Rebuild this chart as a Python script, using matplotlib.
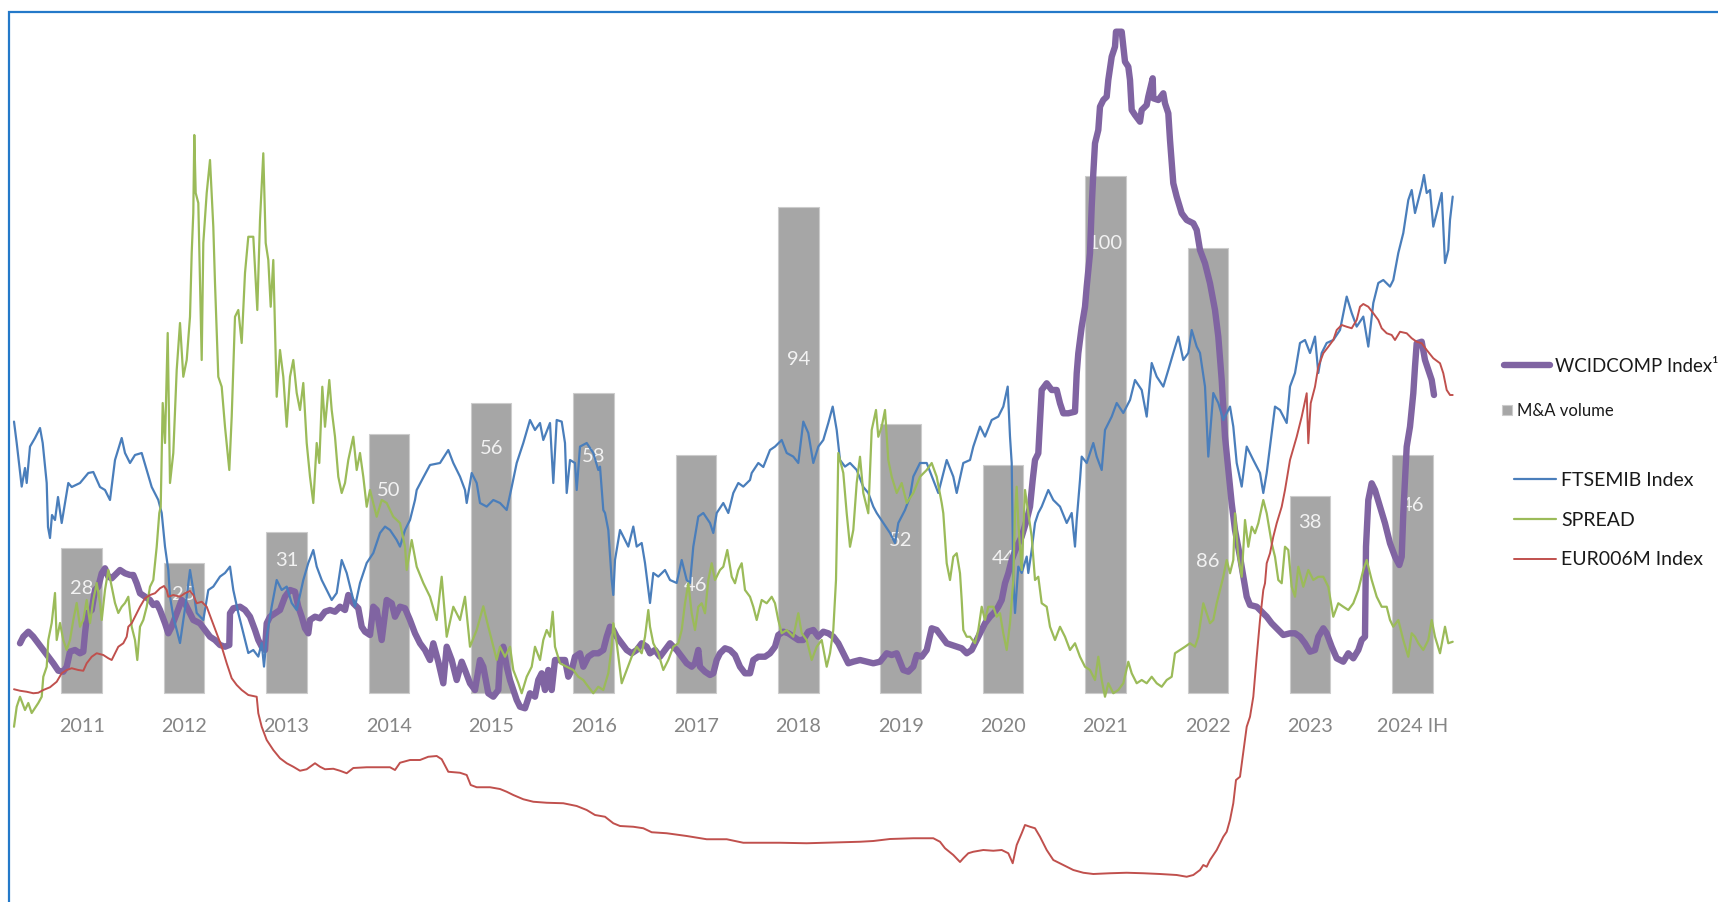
import numpy as np
import matplotlib
matplotlib.use("Agg")
import matplotlib.pyplot as plt
from matplotlib.patches import Rectangle

plt.rcParams['font.family'] = ['Lato', 'DejaVu Sans']

# ---- data -------------------------------------------------------------
years = ['2011', '2012', '2013', '2014', '2015', '2016', '2017',
         '2018', '2019', '2020', '2021', '2022', '2023', '2024 IH']
ma_volume = [28, 25, 31, 50, 56, 58, 46, 94, 52, 44, 100, 86, 38, 46]

# (year fraction, index level)
wcidcomp = [
    (2010.17, 156.7), (2010.203, 163.3), (2010.253, 168.3), (2010.303, 163.3), (2010.353, 156.7),
    (2010.403, 150), (2010.453, 143.3), (2010.503, 136.7), (2010.553, 129.3), (2010.603, 128.3),
    (2010.637, 133.3), (2010.67, 148.3), (2010.72, 150), (2010.77, 146.7), (2010.803, 148.3),
    (2010.82, 166.7), (2010.843, 186.7), (2010.887, 190), (2010.92, 210), (2010.953, 213.3),
    (2010.987, 226.7), (2011.02, 231.7), (2011.053, 223.3), (2011.087, 221.7), (2011.12, 225),
    (2011.17, 230), (2011.22, 226.7), (2011.27, 225), (2011.303, 225), (2011.337, 216.7),
    (2011.37, 206.7), (2011.42, 203.3), (2011.47, 200), (2011.503, 195), (2011.537, 196.7),
    (2011.57, 190), (2011.62, 176.7), (2011.653, 166.7), (2011.687, 173.3), (2011.737, 186.7),
    (2011.787, 200), (2011.82, 196.7), (2011.853, 190), (2011.903, 180), (2011.97, 176.7),
    (2012.02, 170), (2012.07, 163.3), (2012.12, 160), (2012.17, 155), (2012.22, 153.3),
    (2012.263, 155), (2012.27, 186.7), (2012.303, 191.7), (2012.37, 193.3), (2012.42, 190),
    (2012.47, 183.3), (2012.52, 170), (2012.553, 160), (2012.587, 153.3), (2012.62, 150),
    (2012.637, 176.7), (2012.67, 183.3), (2012.72, 186.7), (2012.77, 190), (2012.82, 203.3),
    (2012.87, 210), (2012.92, 208.3), (2012.953, 193.3), (2012.987, 183.3), (2013.02, 171.7),
    (2013.053, 166.7), (2013.07, 180), (2013.12, 183.3), (2013.17, 181.7), (2013.22, 188.3),
    (2013.27, 190), (2013.32, 188.3), (2013.37, 193.3), (2013.42, 190), (2013.453, 205),
    (2013.503, 196.7), (2013.553, 191.7), (2013.587, 173.3), (2013.62, 168.3), (2013.67, 165),
    (2013.703, 193.3), (2013.737, 190), (2013.787, 160), (2013.837, 200), (2013.887, 196.7),
    (2013.92, 183.3), (2013.97, 193.3), (2014.02, 191.7), (2014.07, 180), (2014.12, 166.7),
    (2014.17, 156.7), (2014.22, 150), (2014.27, 140), (2014.303, 156.7), (2014.353, 138.3),
    (2014.403, 116.7), (2014.437, 153.3), (2014.487, 140), (2014.537, 120), (2014.587, 138.3),
    (2014.62, 130), (2014.67, 116.7), (2014.72, 110), (2014.77, 140), (2014.803, 133.3),
    (2014.853, 106.7), (2014.903, 103.3), (2014.953, 110), (2014.97, 140), (2015.003, 153.3),
    (2015.037, 133.3), (2015.07, 120), (2015.103, 110), (2015.137, 100), (2015.17, 93.3),
    (2015.22, 91.7), (2015.27, 106.7), (2015.32, 103.3), (2015.353, 120), (2015.387, 126.7),
    (2015.42, 110), (2015.453, 130), (2015.487, 110), (2015.52, 140), (2015.57, 140),
    (2015.62, 140), (2015.653, 123.3), (2015.687, 130), (2015.72, 143.3), (2015.77, 146.7),
    (2015.803, 133.3), (2015.853, 143.3), (2015.903, 146.7), (2015.953, 146.7), (2016.003, 150),
    (2016.037, 163.3), (2016.07, 173.3), (2016.103, 170), (2016.137, 163.3), (2016.187, 156.7),
    (2016.237, 150), (2016.287, 146.7), (2016.337, 150), (2016.387, 156.7), (2016.437, 153.3),
    (2016.47, 146.7), (2016.52, 150), (2016.57, 143.3), (2016.62, 150), (2016.67, 156.7),
    (2016.703, 153.3), (2016.737, 150), (2016.787, 143.3), (2016.837, 136.7), (2016.887, 133.3),
    (2016.92, 136.7), (2016.953, 150), (2016.97, 133.3), (2017.02, 128.3), (2017.07, 125),
    (2017.103, 126.7), (2017.137, 140), (2017.17, 146.7), (2017.22, 151.7), (2017.27, 150),
    (2017.32, 145), (2017.37, 133.3), (2017.42, 126.7), (2017.47, 126.7), (2017.503, 140),
    (2017.553, 143.3), (2017.62, 143.3), (2017.67, 146.7), (2017.72, 153.3), (2017.753, 165),
    (2017.803, 168.3), (2017.853, 166.7), (2017.903, 163.3), (2017.953, 160), (2018.003, 160),
    (2018.053, 168.3), (2018.103, 170), (2018.153, 163.3), (2018.203, 168.3), (2018.253, 166.7),
    (2018.303, 163.3), (2018.353, 156.7), (2018.403, 146.7), (2018.453, 136.7), (2018.503, 138.3),
    (2018.57, 140), (2018.637, 138.3), (2018.703, 136.7), (2018.77, 138.3), (2018.837, 146.7),
    (2018.887, 145), (2018.937, 146.7), (2018.97, 138.3), (2019.003, 130), (2019.053, 128.3),
    (2019.103, 133.3), (2019.137, 145), (2019.187, 143.3), (2019.237, 150), (2019.287, 171.7),
    (2019.337, 170), (2019.387, 163.3), (2019.437, 156.7), (2019.487, 155), (2019.537, 153.3),
    (2019.587, 151.7), (2019.637, 146.7), (2019.687, 150), (2019.737, 160), (2019.77, 166.7),
    (2019.82, 176.7), (2019.87, 183.3), (2019.92, 188.3), (2019.953, 193.3), (2019.987, 200),
    (2020.02, 216.7), (2020.053, 226.7), (2020.087, 240), (2020.137, 253.3), (2020.187, 263.3),
    (2020.237, 280), (2020.27, 293.3), (2020.297, 320), (2020.32, 340), (2020.353, 346.7),
    (2020.387, 410), (2020.437, 416.7), (2020.487, 410), (2020.537, 410), (2020.57, 396.7),
    (2020.603, 386.7), (2020.653, 386.7), (2020.72, 388.3), (2020.737, 426.7), (2020.753, 446.7),
    (2020.787, 473.3), (2020.82, 493.3), (2020.837, 513.3), (2020.87, 546.7), (2020.887, 593.3),
    (2020.903, 626.7), (2020.92, 656.7), (2020.953, 670), (2020.97, 693.3), (2021.003, 700),
    (2021.037, 703.3), (2021.053, 720), (2021.087, 743.3), (2021.12, 753.3), (2021.13, 768.3),
    (2021.187, 768.3), (2021.203, 753.3), (2021.22, 738.3), (2021.253, 733.3), (2021.27, 720),
    (2021.287, 690), (2021.32, 685), (2021.37, 678.3), (2021.387, 690), (2021.437, 695),
    (2021.453, 703.3), (2021.497, 721.7), (2021.503, 701.7), (2021.553, 700), (2021.603, 706.7),
    (2021.62, 696.7), (2021.653, 686.7), (2021.67, 660), (2021.703, 616.7), (2021.737, 603.3),
    (2021.787, 586.7), (2021.837, 580), (2021.903, 576.7), (2021.937, 570), (2021.97, 550),
    (2022.02, 536.7), (2022.07, 516.7), (2022.12, 490), (2022.153, 463.3), (2022.187, 420),
    (2022.22, 363.3), (2022.253, 330), (2022.287, 296.7), (2022.32, 270), (2022.37, 243.3),
    (2022.403, 223.3), (2022.437, 203.3), (2022.47, 195), (2022.537, 193.3), (2022.587, 188.3),
    (2022.637, 183.3), (2022.687, 176.7), (2022.753, 170), (2022.803, 165), (2022.87, 166.7),
    (2022.92, 166.7), (2022.97, 163.3), (2023.02, 156.7), (2023.07, 148.3), (2023.12, 150),
    (2023.153, 163.3), (2023.203, 171.7), (2023.237, 166.7), (2023.287, 153.3), (2023.337, 141.7),
    (2023.403, 138.3), (2023.453, 146.7), (2023.503, 141.7), (2023.553, 150), (2023.587, 160),
    (2023.62, 163.3), (2023.63, 253.3), (2023.653, 300), (2023.687, 316.7), (2023.72, 310),
    (2023.77, 293.3), (2023.82, 276.7), (2023.87, 256.7), (2023.92, 243.3), (2023.963, 235),
    (2023.987, 243.3), (2024.003, 286.7), (2024.037, 353.3), (2024.07, 373.3), (2024.103, 406.7),
    (2024.12, 433.3), (2024.137, 456.7), (2024.187, 458.3), (2024.22, 440), (2024.253, 430),
    (2024.287, 420), (2024.31, 405),
]

ftsemib = [
    (2010.11, 23920), (2010.137, 22850), (2010.187, 20670), (2010.22, 21600), (2010.237, 20850),
    (2010.27, 22670), (2010.32, 23100), (2010.37, 23600), (2010.397, 22850), (2010.437, 20850),
    (2010.45, 18650), (2010.47, 18100), (2010.49, 19250), (2010.52, 19000), (2010.55, 20150),
    (2010.587, 18850), (2010.653, 20850), (2010.687, 20650), (2010.77, 20850), (2010.853, 21350),
    (2010.903, 21400), (2010.97, 20650), (2011.02, 20500), (2011.07, 20000), (2011.12, 22000),
    (2011.187, 23100), (2011.22, 22350), (2011.27, 21850), (2011.32, 22250), (2011.387, 22350),
    (2011.437, 21500), (2011.487, 20650), (2011.553, 20000), (2011.587, 19350), (2011.62, 17670),
    (2011.653, 16500), (2011.67, 15170), (2011.703, 14170), (2011.77, 12850), (2011.803, 14000),
    (2011.837, 15170), (2011.87, 16500), (2011.903, 15500), (2011.937, 14350), (2012.003, 14000),
    (2012.053, 15500), (2012.103, 15670), (2012.17, 16170), (2012.22, 16350), (2012.27, 16670),
    (2012.303, 15500), (2012.353, 14350), (2012.403, 13350), (2012.453, 12350), (2012.503, 12500),
    (2012.553, 12170), (2012.587, 12850), (2012.61, 11670), (2012.637, 13170), (2012.687, 14670),
    (2012.737, 16000), (2012.787, 15500), (2012.837, 15670), (2012.887, 14850), (2012.937, 14500),
    (2013.003, 16000), (2013.053, 16850), (2013.103, 17500), (2013.137, 16670), (2013.187, 16000),
    (2013.237, 15500), (2013.287, 15000), (2013.337, 15350), (2013.387, 17000), (2013.437, 16350),
    (2013.487, 15350), (2013.52, 14670), (2013.57, 15850), (2013.637, 16850), (2013.703, 17350),
    (2013.77, 18350), (2013.82, 18670), (2013.87, 18500), (2013.937, 18000), (2013.97, 17670),
    (2014.02, 18500), (2014.07, 19000), (2014.12, 20000), (2014.137, 20500), (2014.2, 21100),
    (2014.27, 21750), (2014.37, 21850), (2014.453, 22500), (2014.503, 21850), (2014.57, 21170),
    (2014.62, 20500), (2014.637, 19850), (2014.687, 21350), (2014.737, 20850), (2014.77, 19850),
    (2014.837, 19670), (2014.903, 20000), (2014.97, 19850), (2015.037, 19500), (2015.087, 20650),
    (2015.137, 21850), (2015.203, 22850), (2015.27, 24000), (2015.32, 23500), (2015.37, 23850),
    (2015.403, 23000), (2015.47, 23850), (2015.503, 20850), (2015.537, 24000), (2015.587, 23920),
    (2015.62, 22850), (2015.637, 20350), (2015.67, 22000), (2015.72, 21850), (2015.737, 20500),
    (2015.77, 22670), (2015.837, 22850), (2015.903, 22350), (2015.953, 21500), (2015.97, 21670),
    (2016.003, 19500), (2016.02, 19350), (2016.053, 18500), (2016.087, 16000), (2016.103, 15250),
    (2016.12, 17000), (2016.17, 18500), (2016.203, 18170), (2016.253, 17670), (2016.303, 18670),
    (2016.337, 17670), (2016.387, 17850), (2016.42, 16850), (2016.453, 15500), (2016.47, 14850),
    (2016.503, 16350), (2016.553, 16170), (2016.62, 16500), (2016.67, 16000), (2016.737, 15850),
    (2016.787, 17000), (2016.837, 16000), (2016.87, 15850), (2016.903, 17670), (2016.953, 19170),
    (2017.003, 19350), (2017.07, 18850), (2017.103, 18350), (2017.137, 19350), (2017.203, 19850),
    (2017.253, 19350), (2017.303, 20350), (2017.353, 20850), (2017.403, 20670), (2017.47, 21000),
    (2017.487, 21350), (2017.553, 21850), (2017.603, 21650), (2017.67, 22500), (2017.72, 22670),
    (2017.787, 23000), (2017.837, 22350), (2017.903, 22170), (2017.953, 21850), (2018.003, 23920),
    (2018.053, 23350), (2018.103, 21850), (2018.153, 22670), (2018.203, 23000), (2018.253, 23850),
    (2018.297, 24670), (2018.337, 23500), (2018.37, 22000), (2018.42, 21670), (2018.47, 21850),
    (2018.537, 21500), (2018.603, 20650), (2018.653, 20350), (2018.703, 19670), (2018.737, 19350),
    (2018.803, 18850), (2018.87, 18350), (2018.92, 17850), (2018.953, 18850), (2019.02, 19500),
    (2019.07, 20170), (2019.103, 21170), (2019.17, 21850), (2019.237, 21850), (2019.303, 21000),
    (2019.353, 20350), (2019.437, 22000), (2019.503, 21170), (2019.537, 20350), (2019.603, 21850),
    (2019.67, 22000), (2019.703, 22670), (2019.77, 23670), (2019.82, 23170), (2019.887, 24000),
    (2019.953, 24170), (2020.003, 24670), (2020.047, 25670), (2020.07, 23170), (2020.087, 21850),
    (2020.103, 16000), (2020.12, 14350), (2020.153, 16670), (2020.187, 16350), (2020.237, 17170),
    (2020.253, 16350), (2020.287, 17500), (2020.32, 18850), (2020.353, 19350), (2020.387, 19670),
    (2020.453, 20500), (2020.503, 20000), (2020.57, 19670), (2020.637, 18850), (2020.687, 19350),
    (2020.72, 17670), (2020.737, 19000), (2020.77, 21000), (2020.787, 22170), (2020.837, 21850),
    (2020.903, 22850), (2020.937, 22170), (2020.987, 21500), (2021.02, 23500), (2021.087, 24170),
    (2021.137, 24850), (2021.203, 24350), (2021.27, 25000), (2021.32, 26000), (2021.387, 25500),
    (2021.437, 24170), (2021.487, 26850), (2021.537, 26170), (2021.603, 25670), (2021.653, 26500),
    (2021.703, 27350), (2021.753, 28170), (2021.803, 27000), (2021.853, 27350), (2021.887, 28500),
    (2021.937, 27670), (2021.97, 27350), (2022.02, 25670), (2022.053, 22170), (2022.103, 25350),
    (2022.153, 24850), (2022.203, 24000), (2022.27, 24670), (2022.303, 23670), (2022.337, 21850),
    (2022.387, 20670), (2022.437, 22670), (2022.503, 22000), (2022.57, 21350), (2022.603, 20350),
    (2022.637, 21350), (2022.67, 22670), (2022.72, 24670), (2022.77, 24500), (2022.837, 23850),
    (2022.87, 25670), (2022.92, 26350), (2022.97, 27850), (2023.02, 28000), (2023.07, 27350),
    (2023.12, 28170), (2023.153, 26350), (2023.187, 27350), (2023.237, 27850), (2023.303, 28000),
    (2023.37, 28500), (2023.437, 30170), (2023.487, 29350), (2023.537, 28670), (2023.603, 29170),
    (2023.653, 27670), (2023.703, 29850), (2023.753, 30850), (2023.803, 31000), (2023.87, 30670),
    (2023.903, 31000), (2023.953, 32350), (2024.003, 33350), (2024.053, 35000), (2024.087, 35500),
    (2024.12, 34350), (2024.153, 35000), (2024.187, 35670), (2024.21, 36250), (2024.237, 35350),
    (2024.27, 35500), (2024.303, 33670), (2024.353, 34670), (2024.387, 35350), (2024.42, 31850),
    (2024.453, 32500), (2024.47, 34000), (2024.497, 35170),
]

# BTP-Bund spread, bps
spread = [
    (2010.11, 58.6), (2010.137, 74.6), (2010.17, 82.6), (2010.22, 72), (2010.253, 77.6),
    (2010.287, 69.6), (2010.353, 77.6), (2010.387, 82.6), (2010.403, 98.6), (2010.437, 106.6),
    (2010.453, 128), (2010.487, 141.6), (2010.52, 165.6), (2010.537, 128), (2010.57, 141.6),
    (2010.603, 128), (2010.637, 120), (2010.67, 128), (2010.703, 144), (2010.737, 157.6),
    (2010.77, 138.6), (2010.803, 144), (2010.837, 160), (2010.87, 141.6), (2010.903, 160),
    (2010.937, 173.6), (2010.97, 157.6), (2010.987, 144), (2011.02, 168), (2011.053, 184),
    (2011.087, 170.6), (2011.12, 157.6), (2011.153, 149.6), (2011.187, 154.6), (2011.22, 157.6),
    (2011.253, 162.6), (2011.287, 138.6), (2011.32, 128), (2011.343, 112), (2011.37, 138.6),
    (2011.403, 144), (2011.437, 154.6), (2011.47, 170.6), (2011.503, 176), (2011.537, 202.6),
    (2011.563, 229.6), (2011.577, 234.6), (2011.597, 317.6), (2011.62, 285.6), (2011.647, 373.6),
    (2011.67, 253.6), (2011.703, 277.6), (2011.737, 344), (2011.77, 381.6), (2011.803, 338.6),
    (2011.837, 352), (2011.87, 386.6), (2011.887, 437.6), (2011.903, 469.6), (2011.913, 532),
    (2011.927, 485.6), (2011.953, 477.6), (2011.987, 352), (2012.003, 445.6), (2012.037, 485.6),
    (2012.07, 512), (2012.103, 458.6), (2012.12, 413.6), (2012.153, 338.6), (2012.187, 330.6),
    (2012.22, 298.6), (2012.263, 264), (2012.287, 306.6), (2012.32, 386.6), (2012.353, 392),
    (2012.387, 365.6), (2012.42, 421.6), (2012.453, 450.6), (2012.503, 450.6), (2012.543, 392),
    (2012.57, 464), (2012.603, 517.4), (2012.627, 445.6), (2012.653, 432), (2012.677, 394.6),
    (2012.703, 432), (2012.737, 322.6), (2012.77, 360), (2012.803, 338.6), (2012.837, 298.6),
    (2012.87, 338.6), (2012.903, 352), (2012.937, 325.6), (2012.97, 312), (2013.003, 333.6),
    (2013.037, 285.6), (2013.07, 258.6), (2013.103, 237.6), (2013.137, 285.6), (2013.163, 269.6),
    (2013.193, 330.6), (2013.22, 298.6), (2013.263, 336), (2013.287, 312), (2013.32, 290.6),
    (2013.353, 258.6), (2013.387, 245.6), (2013.42, 253.6), (2013.453, 272), (2013.503, 290.6),
    (2013.537, 264), (2013.57, 277.6), (2013.603, 258.6), (2013.637, 234.6), (2013.67, 248),
    (2013.737, 226.6), (2013.787, 240), (2013.837, 237.6), (2013.903, 226.6), (2013.97, 221.6),
    (2014.02, 202.6), (2014.037, 184), (2014.087, 208), (2014.137, 186.6), (2014.203, 173.6),
    (2014.27, 162.6), (2014.337, 144), (2014.387, 178.6), (2014.437, 130.6), (2014.503, 154.6),
    (2014.57, 144), (2014.62, 162.6), (2014.67, 122.6), (2014.737, 136), (2014.803, 155),
    (2014.853, 138.6), (2014.887, 128), (2014.937, 112), (2014.97, 122.6), (2015.02, 114.6),
    (2015.07, 122.6), (2015.103, 104), (2015.153, 93.6), (2015.187, 85.4), (2015.237, 98.6),
    (2015.287, 106.6), (2015.32, 122.6), (2015.37, 112), (2015.403, 128), (2015.437, 136),
    (2015.47, 130.6), (2015.497, 150.6), (2015.52, 122.6), (2015.57, 109.4), (2015.637, 106.6),
    (2015.703, 104), (2015.753, 98.6), (2015.803, 96), (2015.853, 90.6), (2015.903, 85.4),
    (2015.953, 90.6), (2016.003, 88), (2016.053, 101.4), (2016.087, 122.6), (2016.103, 141.4),
    (2016.137, 125.4), (2016.187, 93.4), (2016.237, 104), (2016.287, 114.6), (2016.337, 122.6),
    (2016.387, 117.4), (2016.42, 130.6), (2016.453, 152), (2016.47, 138.6), (2016.503, 125.4),
    (2016.553, 117.4), (2016.603, 104), (2016.653, 112), (2016.703, 122.6), (2016.753, 125.4),
    (2016.787, 136), (2016.82, 157.4), (2016.853, 173.4), (2016.887, 149.4), (2016.92, 136),
    (2016.953, 154.6), (2016.987, 157.4), (2017.02, 149.4), (2017.053, 176), (2017.087, 189.4),
    (2017.12, 176), (2017.17, 184), (2017.203, 186.6), (2017.243, 200), (2017.287, 178.6),
    (2017.32, 173.4), (2017.353, 184), (2017.387, 189.4), (2017.42, 168), (2017.47, 162.6),
    (2017.503, 154.6), (2017.537, 144), (2017.587, 160), (2017.637, 157.4), (2017.687, 162.6),
    (2017.72, 157.4), (2017.753, 144), (2017.787, 133.4), (2017.837, 136), (2017.903, 130.6),
    (2017.953, 149.4), (2017.987, 133.4), (2018.037, 128), (2018.087, 112), (2018.137, 122.6),
    (2018.187, 128), (2018.237, 106.6), (2018.27, 117.4), (2018.303, 136), (2018.33, 176),
    (2018.343, 229.4), (2018.353, 277.6), (2018.403, 261.6), (2018.437, 229.4), (2018.47, 202.6),
    (2018.503, 216), (2018.537, 253.6), (2018.57, 274.6), (2018.603, 245.6), (2018.653, 229.4),
    (2018.687, 296), (2018.73, 312), (2018.753, 290.6), (2018.787, 298.6), (2018.82, 312),
    (2018.853, 272), (2018.887, 258.6), (2018.937, 245.6), (2018.987, 253.6), (2019.037, 237.6),
    (2019.103, 245.6), (2019.17, 258.6), (2019.237, 264), (2019.287, 269.6), (2019.337, 258.6),
    (2019.387, 237.6), (2019.403, 229.4), (2019.437, 189.4), (2019.47, 176), (2019.503, 194.6),
    (2019.537, 197.4), (2019.57, 181.4), (2019.587, 160), (2019.603, 136), (2019.637, 130.6),
    (2019.67, 130.6), (2019.72, 125.4), (2019.753, 136), (2019.787, 154.6), (2019.82, 144),
    (2019.853, 154.6), (2019.903, 154.6), (2019.937, 146.6), (2019.97, 149.4), (2020.003, 133.4),
    (2020.037, 120), (2020.07, 141.4), (2020.103, 176), (2020.12, 229.4), (2020.137, 250.6),
    (2020.153, 221.4), (2020.187, 184), (2020.22, 248), (2020.253, 229.4), (2020.287, 210.6),
    (2020.32, 176), (2020.353, 178.6), (2020.387, 157.4), (2020.437, 154.6), (2020.47, 138.6),
    (2020.52, 128), (2020.57, 138.6), (2020.62, 130.6), (2020.67, 120), (2020.72, 125.4),
    (2020.77, 114.6), (2020.82, 106.6), (2020.87, 104), (2020.92, 96), (2020.953, 114.6),
    (2020.987, 96), (2021.02, 82.6), (2021.053, 93.4), (2021.103, 85.4), (2021.153, 88),
    (2021.203, 93.4), (2021.253, 110.6), (2021.287, 101.4), (2021.337, 93.4), (2021.387, 96),
    (2021.437, 93.4), (2021.487, 98.6), (2021.537, 93.4), (2021.587, 90.6), (2021.637, 96),
    (2021.687, 98.6), (2021.72, 117.4), (2021.77, 120), (2021.82, 122.6), (2021.87, 125.4),
    (2021.92, 122.6), (2021.953, 130.6), (2022.003, 157.4), (2022.037, 149.4), (2022.07, 141.4),
    (2022.103, 144), (2022.137, 157.4), (2022.17, 168), (2022.203, 178.6), (2022.237, 192),
    (2022.27, 181.4), (2022.303, 192), (2022.32, 229.4), (2022.353, 194.6), (2022.387, 178.6),
    (2022.42, 224), (2022.453, 202.6), (2022.487, 218.6), (2022.52, 213.4), (2022.553, 221.4),
    (2022.603, 240), (2022.637, 229.4), (2022.687, 205.4), (2022.72, 194.6), (2022.753, 176),
    (2022.787, 173.4), (2022.82, 202.6), (2022.853, 200), (2022.887, 170.6), (2022.92, 162.6),
    (2022.953, 186.6), (2023.003, 170.6), (2023.053, 184), (2023.103, 176), (2023.153, 178.6),
    (2023.203, 178.6), (2023.253, 170.6), (2023.303, 146.6), (2023.353, 157.4), (2023.403, 154.6),
    (2023.453, 152), (2023.503, 157.4), (2023.553, 168), (2023.603, 184), (2023.637, 192),
    (2023.687, 176), (2023.737, 162.6), (2023.787, 154.6), (2023.837, 154.6), (2023.87, 144),
    (2023.903, 138.6), (2023.953, 144), (2024.003, 128), (2024.053, 114.6), (2024.087, 133.4),
    (2024.12, 130.6), (2024.153, 125.4), (2024.203, 120), (2024.253, 128), (2024.287, 144),
    (2024.32, 130.6), (2024.37, 117.4), (2024.42, 138.6), (2024.453, 125.4), (2024.497, 126.6),
]

# 6M Euribor, %
eur006m = [
    (2010.11, 0.950), (2010.17, 0.938), (2010.237, 0.930), (2010.303, 0.918), (2010.353, 0.922),
    (2010.403, 0.944), (2010.47, 0.966), (2010.537, 1.010), (2010.587, 1.078), (2010.637, 1.104),
    (2010.687, 1.118), (2010.753, 1.104), (2010.803, 1.098), (2010.837, 1.158), (2010.887, 1.210),
    (2010.937, 1.238), (2011.003, 1.224), (2011.053, 1.198), (2011.087, 1.184), (2011.12, 1.238),
    (2011.153, 1.290), (2011.203, 1.318), (2011.237, 1.370), (2011.253, 1.450), (2011.287, 1.478),
    (2011.32, 1.530), (2011.37, 1.610), (2011.42, 1.678), (2011.47, 1.704), (2011.52, 1.718),
    (2011.57, 1.758), (2011.61, 1.776), (2011.637, 1.744), (2011.653, 1.690), (2011.703, 1.704),
    (2011.77, 1.690), (2011.82, 1.718), (2011.87, 1.736), (2011.903, 1.704), (2011.937, 1.638),
    (2011.987, 1.650), (2012.037, 1.610), (2012.087, 1.504), (2012.137, 1.398), (2012.187, 1.290),
    (2012.237, 1.158), (2012.287, 1.038), (2012.337, 0.984), (2012.387, 0.944), (2012.453, 0.904),
    (2012.537, 0.890), (2012.553, 0.758), (2012.587, 0.650), (2012.637, 0.544), (2012.703, 0.464),
    (2012.77, 0.398), (2012.837, 0.358), (2012.903, 0.330), (2012.97, 0.298), (2013.037, 0.310),
    (2013.12, 0.358), (2013.17, 0.330), (2013.22, 0.310), (2013.303, 0.314), (2013.37, 0.298),
    (2013.437, 0.278), (2013.503, 0.320), (2013.637, 0.326), (2013.77, 0.326), (2013.87, 0.326),
    (2013.92, 0.304), (2013.97, 0.362), (2014.07, 0.384), (2014.17, 0.384), (2014.253, 0.410),
    (2014.337, 0.416), (2014.387, 0.390), (2014.453, 0.290), (2014.57, 0.282), (2014.637, 0.264),
    (2014.677, 0.184), (2014.737, 0.166), (2014.87, 0.166), (2014.97, 0.152), (2015.037, 0.130),
    (2015.103, 0.104), (2015.203, 0.070), (2015.303, 0.050), (2015.437, 0.042), (2015.603, 0.038),
    (2015.737, 0.016), (2015.837, -0.016), (2015.92, -0.056), (2016.02, -0.070), (2016.103, -0.122),
    (2016.17, -0.144), (2016.303, -0.150), (2016.403, -0.162), (2016.487, -0.194), (2016.637, -0.202),
    (2016.837, -0.224), (2017.037, -0.250), (2017.237, -0.250), (2017.403, -0.278), (2017.77, -0.278),
    (2018.037, -0.282), (2018.37, -0.274), (2018.57, -0.270), (2018.703, -0.264), (2018.87, -0.248),
    (2019.103, -0.242), (2019.303, -0.242), (2019.37, -0.270), (2019.42, -0.322), (2019.503, -0.376),
    (2019.57, -0.432), (2019.603, -0.402), (2019.653, -0.362), (2019.703, -0.350), (2019.803, -0.336),
    (2019.903, -0.342), (2019.987, -0.336), (2020.053, -0.362), (2020.097, -0.442), (2020.137, -0.296),
    (2020.187, -0.202), (2020.22, -0.136), (2020.27, -0.150), (2020.32, -0.162), (2020.37, -0.230),
    (2020.437, -0.336), (2020.503, -0.416), (2020.603, -0.456), (2020.703, -0.496), (2020.803, -0.518),
    (2020.903, -0.528), (2021.07, -0.522), (2021.237, -0.518), (2021.403, -0.522), (2021.57, -0.528),
    (2021.737, -0.536), (2021.837, -0.550), (2021.903, -0.536), (2021.97, -0.496), (2022.003, -0.456),
    (2022.037, -0.470), (2022.07, -0.416), (2022.137, -0.336), (2022.203, -0.230), (2022.237, -0.190),
    (2022.27, -0.096), (2022.303, 0.038), (2022.33, 0.224), (2022.37, 0.250), (2022.397, 0.410),
    (2022.42, 0.544), (2022.437, 0.650), (2022.47, 0.730), (2022.503, 0.890), (2022.537, 1.210),
    (2022.57, 1.504), (2022.603, 1.744), (2022.62, 1.798), (2022.637, 1.958), (2022.67, 2.038),
    (2022.703, 2.170), (2022.737, 2.278), (2022.787, 2.410), (2022.82, 2.544), (2022.87, 2.784),
    (2022.937, 2.970), (2022.987, 3.130), (2023.037, 3.318), (2023.053, 2.918), (2023.077, 3.238),
    (2023.12, 3.370), (2023.153, 3.530), (2023.203, 3.638), (2023.253, 3.690), (2023.303, 3.744),
    (2023.337, 3.824), (2023.387, 3.864), (2023.437, 3.850), (2023.487, 3.838), (2023.537, 3.904),
    (2023.57, 4.010), (2023.603, 4.032), (2023.653, 4.010), (2023.703, 3.958), (2023.753, 3.904),
    (2023.787, 3.838), (2023.837, 3.798), (2023.887, 3.784), (2023.92, 3.744), (2023.97, 3.810),
    (2024.037, 3.798), (2024.087, 3.758), (2024.137, 3.730), (2024.187, 3.718), (2024.237, 3.664),
    (2024.303, 3.598), (2024.37, 3.558), (2024.403, 3.478), (2024.437, 3.344), (2024.47, 3.304),
    (2024.497, 3.304),
]

# ---- figure -----------------------------------------------------------
fig = plt.figure(figsize=(17.18, 9.02), dpi=100)

# bars on their own category axis
ax = fig.add_axes([0, 0, 1, 1])
x = np.arange(len(years))
bars = ax.bar(x, ma_volume, width=0.395, color='#a6a6a6', edgecolor='#cccccc',
              linewidth=0.8, label='M&A volume', zorder=2)
ax.set_xlim(-0.798, 15.984)
ax.set_ylim(-40.5, 134.0)
for s in ax.spines.values():
    s.set_visible(False)
ax.spines['bottom'].set_position(('data', 0))
ax.set_yticks([])
ax.set_xticks(x, years)
ax.tick_params(axis='x', length=0, pad=18.5, labelsize=14.2, labelcolor='#858585')

# value labels sit at hand-picked heights inside each bar
label_y = [20.1, 18.9, 25.5, 39.2, 47.3, 45.6, 20.8, 64.4, 29.5, 26.0, 86.8, 25.3, 32.9, 36.3]
for i, v in enumerate(ma_volume):
    ax.text(i, label_y[i], str(v), ha='center', va='center', fontsize=14.5,
            color='#f2f2f2', zorder=3)


def overlay(name, lo, hi):
    a = fig.add_axes([0, 0, 1, 1], label=name, frameon=False)
    a.set_xlim(2009.97, 2027.15)
    a.set_ylim(lo, hi)
    a.axis('off')
    return a


line_kw = dict(solid_joinstyle='round', solid_capstyle='round')

aw = overlay('wcid', -102, 800)
t, v = np.array(wcidcomp).T
l_wcid, = aw.plot(t, v, color='#8064a2', lw=4.6, label='WCIDCOMP Index\u00b9', **line_kw)

af = overlay('ftse', -100, 45000)
t, v = np.array(ftsemib).T
l_ftse, = af.plot(t, v, color='#4a7ebb', lw=1.6, label='FTSEMIB Index', **line_kw)

asp = overlay('spread', -81.6, 640)
t, v = np.array(spread).T
l_spr, = asp.plot(t, v, color='#9bbb59', lw=1.6, label='SPREAD', **line_kw)

ae = overlay('eur', -0.752, 6.464)
t, v = np.array(eur006m).T
l_eur, = ae.plot(t, v, color='#c0504d', lw=1.4, label='EUR006M Index', **line_kw)

# legends (three separate blocks, as in the source)
common = dict(frameon=False, borderpad=0, borderaxespad=0, labelcolor='#1a1a1a')
fig.legend(handles=[l_wcid], loc='center left', bbox_to_anchor=(0.8754, 0.5939),
           fontsize=13.4, handlelength=2.47, handletextpad=0.27, **common)
fig.legend(handles=[bars], loc='center left', bbox_to_anchor=(0.8741, 0.5447),
           fontsize=12, handlelength=0.6, handleheight=0.6, handletextpad=0.3, **common)
fig.legend(handles=[l_ftse, l_spr, l_eur], loc='center left', bbox_to_anchor=(0.8813, 0.4235),
           fontsize=14, handlelength=2.15, handletextpad=0.26, labelspacing=1.18, **common)

# blue chart-area border (only left and top edges fall inside the crop)
fig.add_artist(Rectangle((0.0052, -0.05), 1.2, 1.037, transform=fig.transFigure,
                         fill=False, edgecolor='#2479c9', linewidth=1.6))

fig.savefig('out.png', dpi=100)
